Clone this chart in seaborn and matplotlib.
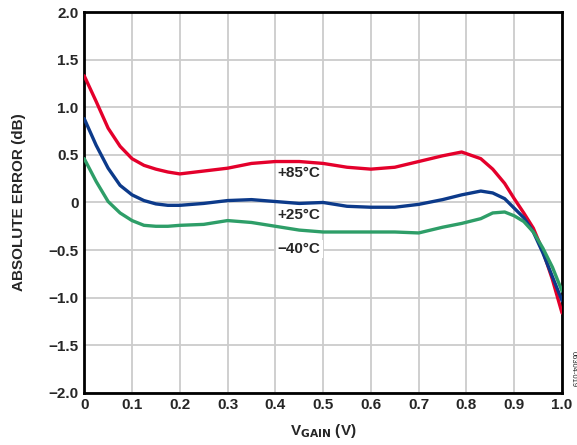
import matplotlib
matplotlib.use("Agg")
import matplotlib.pyplot as plt
import seaborn as sns
import pandas as pd

# values (V_GAIN in volts, error in dB)
vgain = [0.0, 0.025, 0.05, 0.075, 0.1, 0.125, 0.15, 0.175, 0.2, 0.25, 0.3, 0.35, 0.4, 0.45,
         0.5, 0.55, 0.6, 0.65, 0.7, 0.75, 0.79, 0.83, 0.855, 0.88, 0.9, 0.92, 0.94, 0.96, 0.98, 1.0]
err_85 = [1.33, 1.06, 0.78, 0.59, 0.46, 0.39, 0.35, 0.32, 0.30, 0.33, 0.36, 0.41, 0.43, 0.43,
          0.41, 0.37, 0.35, 0.37, 0.43, 0.49, 0.53, 0.46, 0.35, 0.20, 0.04, -0.11, -0.27, -0.51, -0.81, -1.16]
err_25 = [0.88, 0.60, 0.36, 0.18, 0.08, 0.02, -0.015, -0.03, -0.03, -0.01, 0.02, 0.03, 0.01, -0.01,
          0.0, -0.04, -0.05, -0.05, -0.02, 0.03, 0.08, 0.12, 0.10, 0.04, -0.06, -0.16, -0.31, -0.53, -0.78, -1.03]
err_m40 = [0.46, 0.22, 0.01, -0.11, -0.19, -0.24, -0.25, -0.25, -0.24, -0.23, -0.19, -0.21, -0.25, -0.29,
           -0.31, -0.31, -0.31, -0.31, -0.32, -0.26, -0.22, -0.17, -0.11, -0.10, -0.14, -0.20, -0.31, -0.48, -0.68, -0.93]

temps = ["+85°C", "+25°C", "\u221240°C"]
colors = ["#e4002b", "#0c3a8a", "#2e9e68"]

df = pd.concat([
    pd.DataFrame({"vgain": vgain, "err": e, "temp": t})
    for e, t in zip([err_85, err_25, err_m40], temps)
])

sns.set_style("white")
plt.rcParams["font.family"] = ["Liberation Sans", "DejaVu Sans"]
plt.rcParams["font.weight"] = "bold"

fig, ax = plt.subplots(figsize=(5.77, 4.45), dpi=100)
fig.subplots_adjust(left=0.146, right=0.974, top=0.973, bottom=0.117)

sns.lineplot(data=df, x="vgain", y="err", hue="temp", palette=colors,
             linewidth=2.4, legend=False, ax=ax, sort=False, zorder=3)

ax.set_xlim(0, 1.0)
ax.set_ylim(-2.0, 2.0)
ax.set_xticks([i / 10 for i in range(11)])
ax.set_xticklabels(["0"] + [f"{i/10:.1f}" for i in range(1, 11)])
yt = [-2.0, -1.5, -1.0, -0.5, 0, 0.5, 1.0, 1.5, 2.0]
ax.set_yticks(yt)
ax.set_yticklabels([("0" if v == 0 else f"{v:.1f}".replace("-", "\u2212")) for v in yt])
ax.tick_params(axis="both", labelsize=11, length=0, pad=4)
for lab in ax.get_xticklabels() + ax.get_yticklabels():
    lab.set_fontweight("bold")

ax.grid(True, color="#cccccc", linewidth=1.3)
ax.set_axisbelow(True)
for sp in ax.spines.values():
    sp.set_linewidth(2)
    sp.set_color("black")

ax.set_ylabel("ABSOLUTE ERROR (dB)", fontsize=11, fontweight="bold", labelpad=16)
ax.set_xlabel("V$_{\\mathbf{GAIN}}$ (V)", fontsize=11, fontweight="bold", labelpad=7)

# curve labels
ax.text(0.45, 0.31, temps[0], fontsize=11, fontweight="bold", ha="center", va="center", zorder=4)
ax.text(0.45, -0.13, temps[1], fontsize=11, fontweight="bold", ha="center", va="center", zorder=4)
ax.text(0.45, -0.49, temps[2], fontsize=11, fontweight="bold", ha="center", va="center", zorder=4,
        bbox=dict(facecolor="white", edgecolor="none", pad=1.5))

fig.text(0.993, 0.17, "06304-019", rotation=270, fontsize=5.5, fontweight="normal",
         ha="center", va="center")

fig.savefig("out.png", dpi=100)
